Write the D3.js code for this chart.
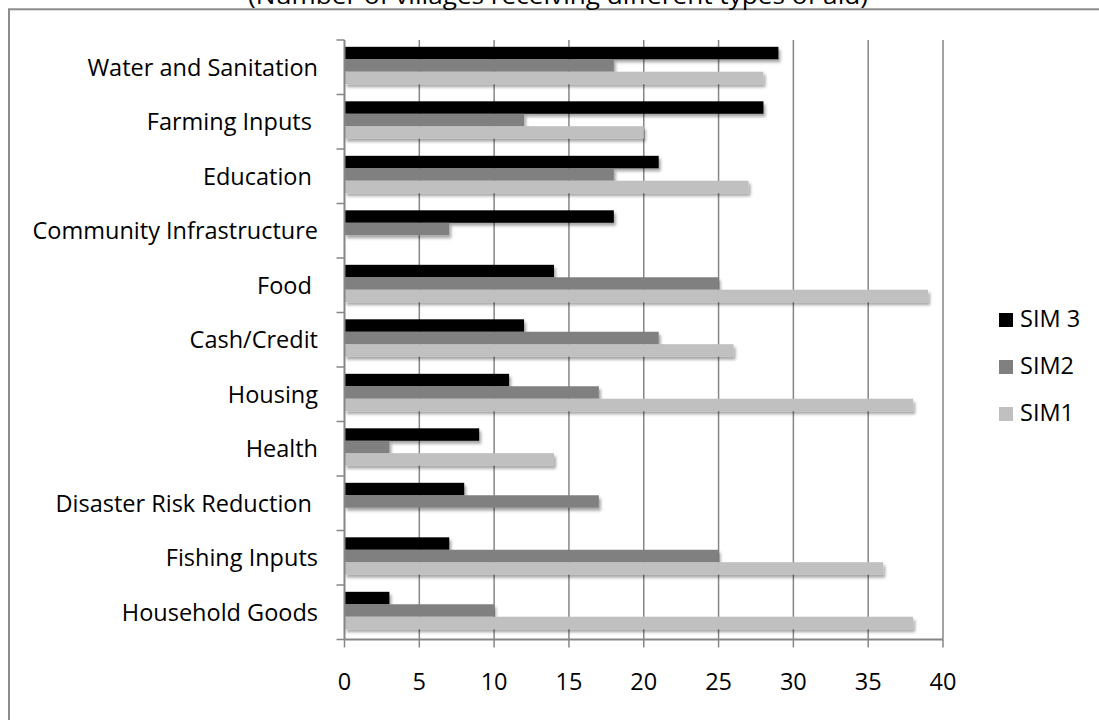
<!DOCTYPE html>
<html>
<head>
<meta charset="utf-8">
<script src="https://cdn.jsdelivr.net/npm/d3@7"></script>
<style>
  html, body { margin: 0; padding: 0; background: #fff; }
  svg { display: block; }
  text { font-family: "Open Sans", Lato, sans-serif; fill: #000; }
</style>
</head>
<body>
<svg id="chart" width="1099" height="720"></svg>
<script>
// Aid categories, top to bottom (trailing spaces kept as entered)
const categories = [
  "Water and Sanitation",
  "Farming Inputs ",
  "Education ",
  "Community Infrastructure",
  "Food ",
  "Cash/Credit",
  "Housing",
  "Health",
  "Disaster Risk Reduction ",
  "Fishing Inputs",
  "Household Goods"
];
const seriesNames = ["SIM 3", "SIM2", "SIM1"];
const sim3 = [29, 28, 21, 18, 14, 12, 11, 9, 8, 7, 3];
const sim2 = [18, 12, 18, 7, 25, 21, 17, 3, 17, 25, 10];
const sim1 = [28, 20, 27, 0, 39, 26, 38, 14, 0, 36, 38];
const xTicks = [0, 5, 10, 15, 20, 25, 30, 35, 40];
const titleText = "(Number of villages receiving different types of aid)";

const seriesValues = [sim3, sim2, sim1];
const seriesColors = ["#000000", "#808080", "#c0c0c0"];
const fontSize = "23.5px";

const svg = d3.select("#chart");

// drop shadow used by the bars
const defs = svg.append("defs");
const f = defs.append("filter").attr("id", "shadow")
  .attr("x", "-5%").attr("y", "-30%").attr("width", "115%").attr("height", "180%");
f.append("feDropShadow").attr("dx", 2).attr("dy", 3)
  .attr("stdDeviation", 1.6).attr("flood-color", "#000").attr("flood-opacity", 0.35);

// outer chart frame
svg.append("rect")
  .attr("x", 9).attr("y", 9.3).attr("width", 1200).attr("height", 800)
  .attr("fill", "none").attr("stroke", "#8c8c8c").attr("stroke-width", 2);

// title, sitting above the frame
svg.append("text")
  .attr("x", 558).attr("y", 4)
  .attr("text-anchor", "middle")
  .attr("textLength", 620)
  .attr("lengthAdjust", "spacingAndGlyphs")
  .style("font-size", "23px")
  .text(titleText);

const plot = { left: 344.5, right: 943, top: 40, bottom: 639.5 };

const x = d3.scaleLinear().domain([0, 40]).range([plot.left, plot.right]);
const y0 = d3.scaleBand().domain(categories).range([plot.top, plot.bottom]).padding(0);
const bw = y0.bandwidth();
const y1 = d3.scaleBand().domain(seriesNames).range([bw * 0.125, bw * 0.81]).padding(0);

// vertical gridlines
svg.append("g").selectAll("line")
  .data(xTicks.filter(d => d > 0))
  .join("line")
  .attr("x1", d => x(d)).attr("x2", d => x(d))
  .attr("y1", plot.top).attr("y2", plot.bottom)
  .attr("stroke", "#868686").attr("stroke-width", 1.5);

// bars
const groups = svg.append("g").selectAll("g")
  .data(categories)
  .join("g")
  .attr("transform", c => `translate(0,${y0(c)})`);

groups.selectAll("rect")
  .data((c, i) => seriesNames.map((s, k) => ({ s, k, v: seriesValues[k][i] })))
  .join("rect")
  .filter(d => d.v > 0)
  .attr("x", x(0))
  .attr("y", d => y1(d.s))
  .attr("width", d => x(d.v) - x(0))
  .attr("height", y1.bandwidth())
  .attr("fill", d => seriesColors[d.k])
  .attr("filter", "url(#shadow)");

// category axis
const yAxis = svg.append("g").attr("transform", `translate(${plot.left},0)`);
yAxis.append("line")
  .attr("x1", 0).attr("x2", 0).attr("y1", plot.top).attr("y2", plot.bottom)
  .attr("stroke", "#868686").attr("stroke-width", 2);
yAxis.selectAll("line.tick")
  .data(categories.map(c => y0(c)).concat([plot.bottom]))
  .join("line").attr("class", "tick")
  .attr("x1", -8).attr("x2", 0)
  .attr("y1", d => d).attr("y2", d => d)
  .attr("stroke", "#868686").attr("stroke-width", 1.5);
svg.append("g").selectAll("text")
  .data(categories)
  .join("text")
  .attr("x", 318)
  .attr("y", c => y0(c) + bw / 2)
  .attr("dy", "0.36em")
  .attr("text-anchor", "end")
  .attr("xml:space", "preserve")
  .style("white-space", "pre")
  .style("font-size", fontSize)
  .text(c => c);

// value axis
const xAxisG = svg.append("g").attr("transform", `translate(0,${plot.bottom})`);
xAxisG.append("line")
  .attr("x1", plot.left).attr("x2", plot.right)
  .attr("stroke", "#868686").attr("stroke-width", 2);
xAxisG.selectAll("line.tick")
  .data(xTicks)
  .join("line").attr("class", "tick")
  .attr("x1", d => x(d)).attr("x2", d => x(d))
  .attr("y1", 0).attr("y2", 8)
  .attr("stroke", "#868686").attr("stroke-width", 1.5);
xAxisG.selectAll("text")
  .data(xTicks)
  .join("text")
  .attr("x", d => x(d))
  .attr("y", 50)
  .attr("text-anchor", "middle")
  .style("font-size", fontSize)
  .text(d => d);

// legend
const legend = svg.append("g").attr("transform", "translate(999,313)");
const li = legend.selectAll("g")
  .data(seriesNames)
  .join("g")
  .attr("transform", (d, i) => `translate(0,${i * 47})`);
li.append("rect")
  .attr("width", 14).attr("height", 14)
  .attr("fill", (d, i) => seriesColors[i]);
li.append("text")
  .attr("x", 21).attr("y", 14)
  .style("font-size", fontSize)
  .text(d => d);
</script>
</body>
</html>
